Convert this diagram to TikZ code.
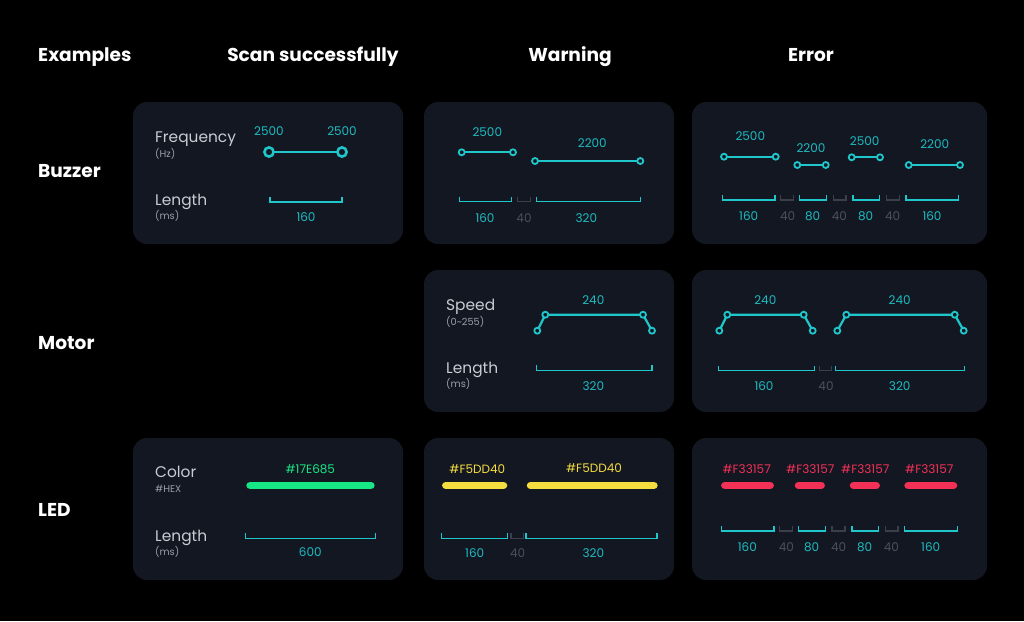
\documentclass[tikz,border=0pt]{standalone}
\usepackage{fontspec}
\setmainfont{Poppins}
\definecolor{bgc}{HTML}{000000}
\definecolor{panelc}{HTML}{131722}
\definecolor{tealc}{HTML}{1FC6CA}
\definecolor{tealt}{HTML}{1DBBC0}
\definecolor{grayb}{HTML}{3A3F4A}
\definecolor{grayt}{HTML}{4B505B}
\definecolor{lbl}{HTML}{C9CCD2}
\definecolor{sublbl}{HTML}{9A9EA6}
\definecolor{greenc}{HTML}{17E685}
\definecolor{yellowc}{HTML}{F5DD40}
\definecolor{redc}{HTML}{F33157}
\tikzset{
  panel/.style={fill=panelc, rounded corners=14pt},
  hdr/.style={text=white, font=\fontsize{18.6}{22}\selectfont\bfseries, inner sep=0pt},
  lab/.style={text=lbl, font=\fontsize{15.4}{18}\selectfont, inner sep=0pt, anchor=base west},
  sublab/.style={text=sublbl, font=\fontsize{9.8}{11}\selectfont, inner sep=0pt, anchor=west},
  num/.style={text=tealt, font=\fontsize{12}{14}\selectfont, inner sep=0pt},
  gnum/.style={text=grayt, font=\fontsize{12}{14}\selectfont, inner sep=0pt},
  brk/.style={draw=tealc, line width=1.5pt},
  gbrk/.style={draw=grayb, line width=1.5pt},
  seg/.style={draw=tealc, line width=2.2pt},
  dot/.style={draw=tealc, fill=panelc, line width=1.8pt},
  bigdot/.style={draw=tealc, fill=panelc, line width=2.6pt},
  bar/.style={line width=7.7pt, line cap=round},
}
\newcommand\mybrk[4]{\draw[#4] (#1,#2) -- (#1,#2+5) -- (#3,#2+5) -- (#3,#2);}
\newcommand\myseg[3]{\draw[seg] (#1,#3) -- (#2,#3); \draw[dot] (#1,#3) circle (3); \draw[dot] (#2,#3) circle (3);}
\newcommand\mytrap[6]{\draw[seg, line join=round] (#1,#6) -- (#2,#5) -- (#3,#5) -- (#4,#6);
  \foreach \px/\py in {#1/#6,#2/#5,#3/#5,#4/#6}{\draw[dot] (\px,\py) circle (3);}}
\begin{document}
\begin{tikzpicture}[x=1pt,y=-1pt]
\fill[bgc] (0,0) rectangle (1024,621);
\useasboundingbox (0,0) rectangle (1024,621);

% panels
\fill[panel] (133,102) rectangle (403,244);
\fill[panel] (424,102) rectangle (674,244);
\fill[panel] (692,102) rectangle (987,244);
\fill[panel] (424,270) rectangle (674,412);
\fill[panel] (692,270) rectangle (987,412);
\fill[panel] (133,438) rectangle (403,580);
\fill[panel] (424,438) rectangle (674,580);
\fill[panel] (692,438) rectangle (987,580);

% headers
\node[hdr, anchor=base west] (hex) at (38,61.5) {Examples};
\node[hdr, anchor=base] (hscan) at (313,61.5) {Scan successfully};
\node[hdr, anchor=base] (hwarn) at (570,61.5) {Warning};
\node[hdr, anchor=base] (herr) at (811,61.5) {Error};
\node[hdr, anchor=base west] (rbuz) at (38,177.5) {Buzzer};
\node[hdr, anchor=base west] (rmot) at (38,349.5) {Motor};
\node[hdr, anchor=base west] (rled) at (38,516.5) {LED};

% ---------- Buzzer / scan
\node[lab] (bsf) at (155,142.5) {Frequency};
\node[sublab] (bsfu) at (155,153.5) {(Hz)};
\node[lab] (bsl) at (155,205) {Length};
\node[sublab] (bslu) at (155,215.5) {(ms)};
\draw[tealc, line width=2.6pt] (269,152) -- (342,152);
\draw[bigdot] (269,152) circle (4.6);
\draw[bigdot] (342,152) circle (4.6);
\node[num] (bs1) at (269,131) {2500};
\node[num] (bs2) at (342,131) {2500};
\mybrk{270}{197}{342}{brk}
\node[num] (bs3) at (306,217.3) {160};

% ---------- Buzzer / warning
\myseg{461.7}{513}{152.3}
\node[num] (bw1) at (487.3,132.3) {2500};
\myseg{535}{640.3}{161}
\node[num] (bw2) at (592.3,143.3) {2200};
\mybrk{459.3}{196.7}{511.3}{brk}
\mybrk{517.7}{196.7}{530.3}{gbrk}
\mybrk{536.3}{196.7}{640.7}{brk}
\node[num] (bw3) at (485,217.7) {160};
\node[gnum] (bw4) at (524,217.7) {40};
\node[num] (bw5) at (586.3,217.7) {320};

% ---------- Buzzer / error
\myseg{724}{775.7}{156.7}
\node[num] (be1) at (750.3,136) {2500};
\myseg{797.3}{825.7}{165}
\node[num] (be2) at (811,147.7) {2200};
\myseg{851.7}{880}{157.3}
\node[num] (be3) at (864.7,140.7) {2500};
\myseg{908.7}{960}{165}
\node[num] (be4) at (934.7,144.3) {2200};
\mybrk{722.7}{195}{775}{brk}
\mybrk{780.7}{195}{793.7}{gbrk}
\mybrk{799.3}{195}{826.3}{brk}
\mybrk{833.3}{195}{846}{gbrk}
\mybrk{853}{195}{879.7}{brk}
\mybrk{886.3}{195}{899.3}{gbrk}
\mybrk{906}{195}{958.3}{brk}
\node[num] (be5) at (748.7,216) {160};
\node[gnum] (be6) at (787.7,216) {40};
\node[num] (be7) at (812.7,216) {80};
\node[gnum] (be8) at (839.3,216) {40};
\node[num] (be9) at (865.7,216) {80};
\node[gnum] (be10) at (892.7,216) {40};
\node[num] (be11) at (932,216) {160};

% ---------- Motor / warning
\node[lab] (mws) at (446,310) {Speed};
\node[sublab] (mwsu) at (446,321.5) {(0\char`\~255)};
\node[lab] (mwl) at (446,373) {Length};
\node[sublab] (mwlu) at (446,384) {(ms)};
\mytrap{537.3}{545.3}{643}{652}{314.7}{330.7}
\node[num] (mw1) at (593.3,300.3) {240};
\mybrk{536.3}{365.3}{652}{brk}
\node[num] (mw2) at (593.3,386.3) {320};

% ---------- Motor / error
\mytrap{719.3}{727.3}{803.7}{812.7}{314.7}{330.7}
\node[num] (me1) at (765.3,300.3) {240};
\mytrap{837.3}{846.3}{954.7}{963.7}{314.7}{330.7}
\node[num] (me2) at (899.7,300.3) {240};
\mybrk{718.7}{365.7}{814.7}{brk}
\mybrk{819.7}{365.7}{831.3}{gbrk}
\mybrk{835.3}{365.7}{964.7}{brk}
\node[num] (me3) at (764,386.3) {160};
\node[gnum] (me4) at (826,386.3) {40};
\node[num] (me5) at (899.7,386.3) {320};

% ---------- LED / scan
\node[lab] (lsc) at (155,477) {Color};
\node[sublab] (lscu) at (155,489.3) {\#HEX};
\node[lab] (lsl) at (155,541) {Length};
\node[sublab] (lslu) at (155,552) {(ms)};
\draw[bar, greenc] (250.2,485.5) -- (370.8,485.5);
\node[num, text=greenc] (ls1) at (310.3,468.7) {\#17E685};
\mybrk{245.3}{533.3}{375.3}{brk}
\node[num] (ls2) at (310.3,552) {600};

% ---------- LED / warning
\draw[bar, yellowc] (445.9,485.5) -- (503.4,485.5);
\draw[bar, yellowc] (530.6,485.5) -- (653.8,485.5);
\node[num, text=yellowc] (lw1) at (477.3,469.3) {\#F5DD40};
\node[num, text=yellowc] (lw2) at (594,468.3) {\#F5DD40};
\mybrk{441.3}{533.3}{507.3}{brk}
\mybrk{511}{533.3}{523.3}{gbrk}
\mybrk{526}{533.3}{657}{brk}
\node[num] (lw3) at (474.7,553.3) {160};
\node[gnum] (lw4) at (517.7,553.3) {40};
\node[num] (lw5) at (593.3,553.3) {320};

% ---------- LED / error
\draw[bar, redc] (724.9,485.5) -- (770.1,485.5);
\draw[bar, redc] (798.6,485.5) -- (821.1,485.5);
\draw[bar, redc] (853.6,485.5) -- (876.1,485.5);
\draw[bar, redc] (908.2,485.5) -- (953.4,485.5);
\node[num, text=redc] (le1) at (746.7,468.7) {\#F33157};
\node[num, text=redc] (le2) at (810.3,468.7) {\#F33157};
\node[num, text=redc] (le3) at (865.3,468.7) {\#F33157};
\node[num, text=redc] (le4) at (929.3,468.7) {\#F33157};
\mybrk{721.7}{526}{774}{brk}
\mybrk{779.7}{526}{792.7}{gbrk}
\mybrk{798.7}{526}{825.3}{brk}
\mybrk{832}{526}{845}{gbrk}
\mybrk{852}{526}{878.3}{brk}
\mybrk{885.3}{526}{898}{gbrk}
\mybrk{904.7}{526}{957.3}{brk}
\node[num] (le5) at (747.3,547) {160};
\node[gnum] (le6) at (786.3,547) {40};
\node[num] (le7) at (811.7,547) {80};
\node[gnum] (le8) at (838.7,547) {40};
\node[num] (le9) at (864.7,547) {80};
\node[gnum] (le10) at (891.3,547) {40};
\node[num] (le11) at (930.7,547) {160};
\end{tikzpicture}
\end{document}
